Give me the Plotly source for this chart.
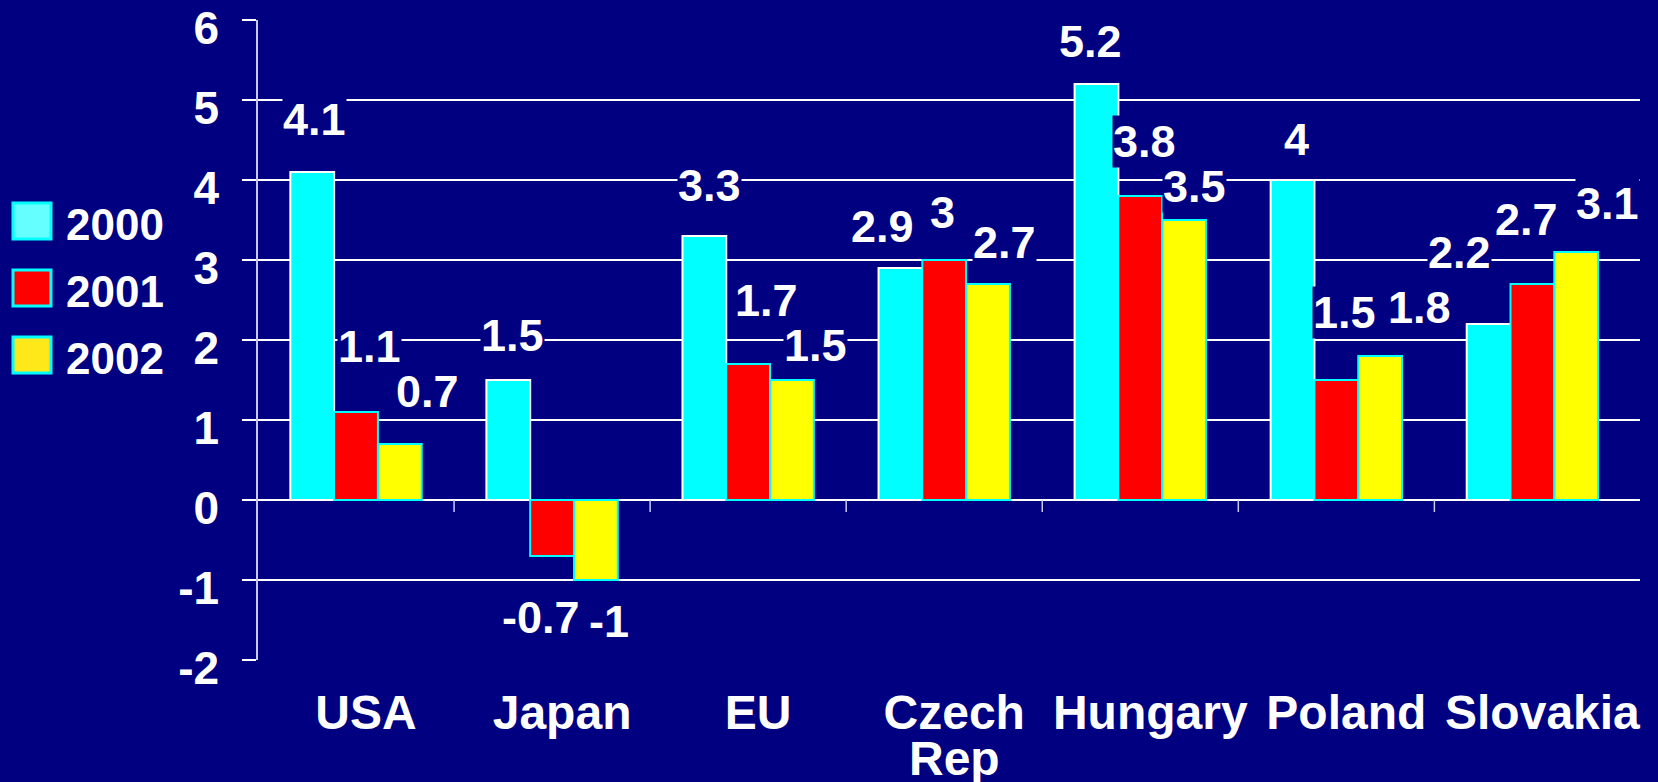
import plotly.graph_objects as go

# ---- data ----
categories = ["USA", "Japan", "EU", "Czech Rep", "Hungary", "Poland", "Slovakia"]
years = ["2000", "2001", "2002"]
v2000 = [4.1, 1.5, 3.3, 2.9, 5.2, 4.0, 2.2]
v2001 = [1.1, -0.7, 1.7, 3.0, 3.8, 1.5, 2.7]
v2002 = [0.7, -1.0, 1.5, 2.7, 3.5, 1.8, 3.1]
y_ticks = [-2, -1, 0, 1, 2, 3, 4, 5, 6]

# ---- style ----
BG = "#000080"
FONT = "Liberation Sans, Arial, sans-serif"
bar_fill = ["#00FFFF", "#FF0000", "#FFFF00"]
bar_line = ["#FFFFFF", "#00FFFF", "#00FFFF"]
legend_fill = ["#66FFFF", "#FF0000", "#FFE81A"]
# pixel nudges (dx, dy) of each value label from its bar end, per series / category
# (dy negative = upwards)
label_nudge = [
    [(3, -53), (5, -44), (5, -51), (-18, -42), (-6, -43), (4, -41), (-29, -72)],
    [(13, -65), (-11, 62), (18, -63), (-2, -48), (4, -55), (8, -67), (-6, -65)],
    [(27, -52), (13, 42), (23, -34), (16, -42), (10, -34), (39, -49), (31, -49)],
]
CAT_LABEL_SHIFT = 10

W, H = 1658, 782
L, R, T, B = 258, 18, 20, 122
pw, ph = W - L - R, H - T - B
BAR_W_PX = pw / len(categories) * (1 - 0.33) / 3


def px_x(px):
    return (px - L) / pw


def px_y(py):
    return (H - B - py) / ph


series = [v2000, v2001, v2002]
fig = go.Figure()
for i, (name, vals) in enumerate(zip(years, series)):
    fig.add_trace(go.Bar(
        x=categories, y=vals, name=name,
        marker=dict(color=bar_fill[i], line=dict(color=bar_line[i], width=2)),
        showlegend=False,
    ))

annotations = []
for i, vals in enumerate(series):
    for j, (c, v) in enumerate(zip(categories, vals)):
        dx, dy = label_nudge[i][j]
        annotations.append(dict(
            x=c, y=v, xref="x", yref="y", text=f"{v:g}", showarrow=False,
            xshift=(i - 1) * BAR_W_PX + dx, yshift=-dy,
            xanchor="center", yanchor="middle",
            font=dict(family=FONT, size=45, color="white", weight="bold"),
            bgcolor=BG, borderpad=0,
        ))

# category tick text: first line on axis, continuation line as annotation
ticktext = [c.split(" ")[0] for c in categories]
for c in categories:
    parts = c.split(" ")
    if len(parts) > 1:
        annotations.append(dict(
            x=c, y=px_y(758), xref="x", yref="paper", text=" ".join(parts[1:]),
            showarrow=False, xanchor="center", yanchor="middle",
            xshift=CAT_LABEL_SHIFT,
            font=dict(family=FONT, size=48, color="white", weight="bold"),
        ))

# legend (drawn)
shapes = []
leg_top = [203, 270, 337]
for i, name in enumerate(years):
    shapes.append(dict(
        type="rect", xref="paper", yref="paper",
        x0=px_x(13), x1=px_x(51), y0=px_y(leg_top[i]), y1=px_y(leg_top[i] + 36),
        fillcolor=legend_fill[i], line=dict(color="#00FFFF", width=3),
    ))
    annotations.append(dict(
        x=px_x(64), y=px_y(leg_top[i] + 21), xref="paper", yref="paper", text=name,
        showarrow=False, xanchor="left", yanchor="middle",
        font=dict(family=FONT, size=44, color="white", weight="bold"),
    ))

# category separator ticks on the zero line
for k in range(1, len(categories)):
    shapes.append(dict(
        type="line", xref="x", yref="y", x0=k - 0.5, x1=k - 0.5, y0=0, y1=-0.15,
        line=dict(color="#C8C8FF", width=1.5),
    ))

fig.update_layout(
    width=W, height=H,
    margin=dict(l=L, r=R, t=T, b=B, pad=0, autoexpand=False),
    paper_bgcolor=BG, plot_bgcolor=BG,
    barmode="group", bargap=0.33, bargroupgap=0,
    font=dict(family=FONT, color="white"),
    annotations=annotations, shapes=shapes,
    showlegend=False,
)
fig.update_xaxes(
    tickmode="array", tickvals=categories, ticktext=ticktext,
    tickfont=dict(family=FONT, size=48, color="white", weight="bold"),
    showgrid=False, showline=False, zeroline=False, ticks="",
    ticklabelstandoff=20, ticklabelshift=CAT_LABEL_SHIFT, automargin=False,
)
fig.update_yaxes(
    range=[-2.001, 6.001], tickmode="array", tickvals=y_ticks,
    ticktext=[str(v) for v in y_ticks],
    tickfont=dict(family=FONT, size=46, color="white", weight="bold"),
    showgrid=True, gridcolor="#FFFFFF", gridwidth=1.5,
    zeroline=True, zerolinecolor="#FFFFFF", zerolinewidth=1.5,
    showline=True, linecolor="#C8C8FF", linewidth=1.5,
    ticks="outside", ticklen=14, tickcolor="#FFFFFF", tickwidth=1.5,
    ticklabelstandoff=14, ticklabelshift=8, ticklabeloverflow="allow",
    automargin=False,
)

fig.write_html(
    "out.html",
    config={"displayModeBar": False},
    post_script="document.body.style.margin='0';document.body.style.overflow='hidden';",
)
